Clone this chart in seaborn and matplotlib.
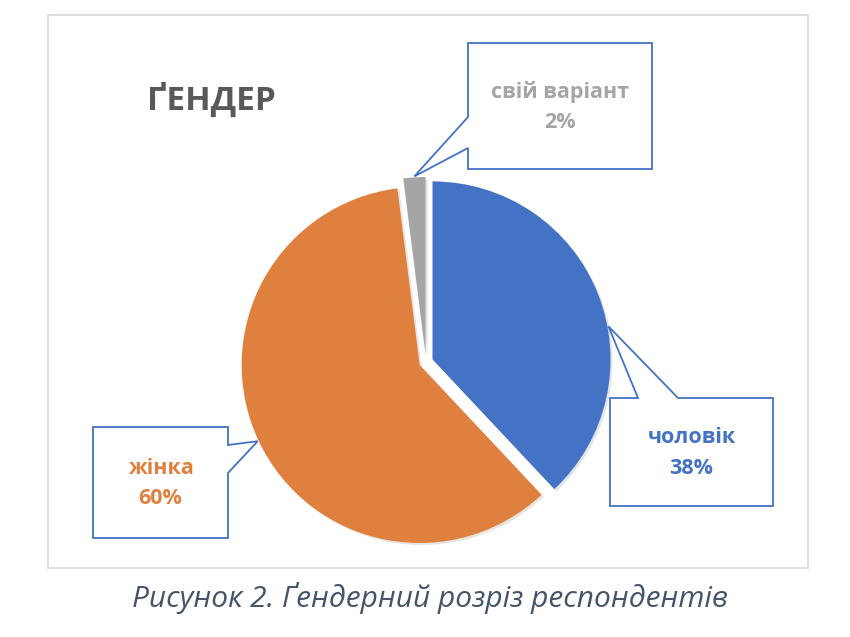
import numpy as np
import seaborn as sns
import matplotlib.pyplot as plt
import matplotlib.patheffects as pe
from matplotlib.patches import Polygon, Rectangle

#%% data
labels = ['чоловік', 'жінка', 'свій варіант']
shares = [38, 60, 2]
title = 'ҐЕНДЕР'
caption = 'Рисунок 2. Ґендерний розріз респондентів'

#%% style
sns.set_theme(style='white')
plt.rcParams['font.family'] = ['Open Sans', 'DejaVu Sans']
colors = ['#4472C4', '#E0803F', '#A5A5A5']
edge_blue = '#4472C4'

W, H = 850, 637
fig = plt.figure(figsize=(W / 100, H / 100), dpi=100)
ax = fig.add_axes([0, 0, 1, 1])

def Y(py):
    # pixel row (from top) -> data y
    return H - py

# chart area frame
ax.add_patch(Rectangle((48, Y(568)), 760, 553, fill=False, ec='#D9D9D9', lw=1.2))

#%% pie (explode is in data units here, ~7 px)
cx, cy, r = 426, Y(362), 178
wedges, _ = ax.pie(shares, colors=colors, startangle=90, counterclock=False,
                   center=(cx, cy), radius=r, explode=[7] * 3,
                   wedgeprops=dict(linewidth=0), frame=True)
for w in wedges:
    w.set_path_effects([pe.SimplePatchShadow(offset=(1.5, -1.5), alpha=0.12),
                        pe.Normal()])
ax.set_xlim(0, W)
ax.set_ylim(0, H)
ax.set_aspect('equal')
ax.axis('off')

def tip_of(w, frac):
    a = np.deg2rad(w.theta1 + frac * (w.theta2 - w.theta1))
    x0, y0 = w.center
    return (x0 + (w.r + 1) * np.cos(a), y0 + (w.r + 1) * np.sin(a))

def callout(box, side, a, b, tip, text, color):
    x0, y0, x1, y1 = box  # pixel coords, y from top
    if side == 'top':
        pts = [(x0, y0), (a, y0), None, (b, y0), (x1, y0), (x1, y1), (x0, y1)]
    elif side == 'right':
        pts = [(x0, y0), (x1, y0), (x1, a), None, (x1, b), (x1, y1), (x0, y1)]
    else:
        pts = [(x0, y0), (x1, y0), (x1, y1), (x0, y1), (x0, b), None, (x0, a)]
    verts = [tip if p is None else (p[0], Y(p[1])) for p in pts]
    ax.add_patch(Polygon(verts, closed=True, fc='white', ec=edge_blue, lw=1.3, zorder=3))
    ax.text((x0 + x1) / 2, Y((y0 + y1) / 2 + 1), text, ha='center', va='center',
            color=color, fontsize=15.5, fontweight='bold', linespacing=1.6, zorder=4)

texts = [f'{l}\n{s}%' for l, s in zip(labels, shares)]
callout((610, 398, 773, 506), 'top', 638, 678, tip_of(wedges[0], 0.42), texts[0], colors[0])
callout((93, 427, 228, 538), 'right', 445, 473, tip_of(wedges[1], 0.5), texts[1], colors[1])
callout((468, 43, 652, 169), 'left', 117, 148, tip_of(wedges[2], 0.5), texts[2], colors[2])

#%% titles
ax.text(147, Y(100), title, ha='left', va='center', fontsize=24,
        fontweight='bold', color='#595959')
ax.text(430, Y(598), caption, ha='center', va='center', fontsize=21.5,
        style='italic', color='#44546A')

fig.savefig('out.png', dpi=100)
